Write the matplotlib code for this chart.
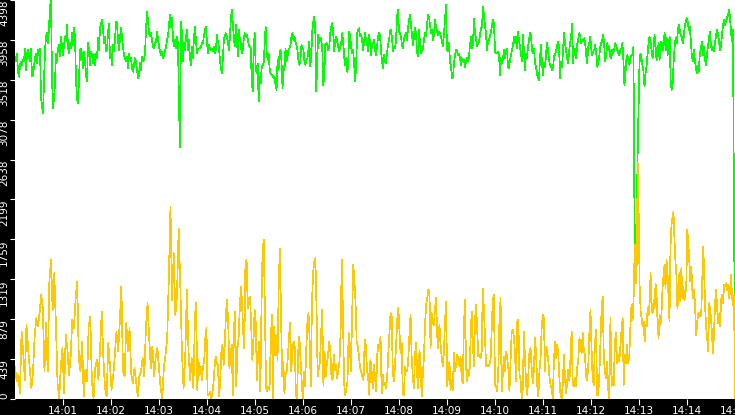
import numpy as np
import matplotlib
matplotlib.use('Agg')
import matplotlib.pyplot as plt

# minutes after 14:00, values
green_1 = [3774, 3719, 3810, 3608, 3553, 3682, 3719, 3682, 3737, 3719, 3865, 3627, 3810, 3847, 3774, 3719,
           3865, 3553, 3572, 3663, 3755, 3810, 3700, 3847, 3792, 3865, 3333, 3223, 3149, 3498, 3847, 3994,
           4031, 3921, 4086, 4325, 4398, 3535, 3204, 3315, 3480, 3810, 3719, 3865, 3902, 3774, 3994, 3884,
           3792, 3902, 3994, 3939, 4123, 3884, 3810, 3921, 3865, 4031, 3902, 4086, 3994, 3517, 3315, 3260,
           3517, 3847, 3865, 3792, 3645, 3829, 3737, 3572, 3498, 3921, 3847, 3682, 3829, 3792, 3700, 3792,
           3682, 3810, 3755, 3976, 3847, 4086, 4141, 4178, 4086, 3921, 3994, 3829, 3847, 4031, 4141, 3755,
           3810, 3682, 3902, 3829, 3957, 4159, 4141, 3957, 3847, 3976, 4086, 3994, 3884, 3792, 3755, 3719,
           3774, 3645, 3810, 3737, 3755, 3645, 3608, 3682, 3755, 3719, 3627, 3535, 3572, 3700, 3627, 3774,
           3719, 3737, 3810, 4067, 4269, 4178, 4031, 3994, 4031, 3957, 3884, 3865, 3921, 3939, 4049, 3976,
           3884, 3829, 3792, 3829, 3755, 3792, 3829, 3884, 3957, 3994, 4123, 4233, 4104, 4196, 3976, 3884,
           3957, 3865, 3994, 3921, 3223, 2780, 4159, 4031, 3719, 3921, 3847, 3994, 4067, 3847, 3957, 3755,
           3682, 3884, 3755, 3994, 4104, 3939, 3810, 3865, 3865]
green_2 = [3865, 3884, 3921, 3921, 4012, 4067, 4104, 3939, 3810, 3902, 3865, 3847, 3865, 3829, 3884, 3810,
           3847, 4012, 3939, 3884, 3737, 3645, 3590, 3755, 3957, 4012, 4031, 3994, 3939, 3847, 3976, 4178,
           4288, 4141, 3994, 3884, 4123, 4013, 3774, 4067, 3976, 3921, 3810, 3847, 3957, 4031, 3994, 4012,
           3976, 3902, 3884, 3865, 3517, 3388, 3865, 4031, 3663, 3590, 3700, 3278, 3553, 3480, 3645, 3682,
           3700, 3902, 4104, 3829, 3737, 3810, 3645, 3590, 3572, 3572, 3535, 3553, 3462, 3406, 3737, 3627,
           3810, 3847, 3719, 3425, 3663, 3627, 3865, 3719, 3774, 3847, 3865, 3902, 3994, 4031, 3957, 3994,
           3939, 3902, 3847, 3737, 3682, 3737, 3902, 3865, 3847, 3719, 3682, 3737, 3755, 3847, 3939, 3663,
           3810, 4067, 4159, 4214, 4031, 3388, 3792, 4012, 3921, 3976, 3957, 3847, 3462, 3553, 3902, 3921,
           3902, 3847, 3884, 4031, 4104, 4141, 4031, 3829, 3957, 3994, 3939, 3884, 3829, 3884, 3921, 4031,
           3939, 3774, 3682, 3755, 3608, 3663, 4049, 4012, 3884, 3810, 3847, 3700, 3498, 3663, 4031, 4067,
           4086, 3994, 4012, 3957, 3847, 3939, 4031, 3957, 3921, 3829, 4012, 3939, 3792, 3902, 3921, 3957]
green_3 = [3847, 3792, 3884, 3994, 4031, 4012, 3847, 3719, 3645, 3792, 3719, 3700, 3810, 3902, 3957, 4049,
           4067, 3976, 3829, 3884, 3865, 3939, 4214, 4288, 4049, 4031, 3994, 3902, 3865, 3976, 4012, 4031,
           3957, 4086, 4178, 4233, 4123, 4012, 3902, 3994, 4086, 4031, 3829, 3774, 4067, 3921, 3810, 3847,
           3865, 3957, 4031, 3994, 4123, 4233, 4214, 4123, 4031, 4067, 3957, 4012, 4178, 4104, 4049, 4012,
           4049, 4031, 3994, 3939, 3884, 4031, 4196, 4343, 3847, 3829, 3921, 3719, 3663, 3535, 3553, 3700,
           3792, 3847, 3829, 3792, 3810, 3755, 3682, 3755, 3719, 3737, 3663, 3719, 3755, 3719, 3774, 3902,
           3994, 3865, 3921, 4196, 4031, 3976, 3884, 3921, 3939, 4012, 4086, 4104, 4325, 4233, 4104, 4031,
           3847, 3939, 3957, 3994, 4049, 4123, 4178, 4141, 3829, 3810, 3810, 3829, 3792, 3572, 3755, 3700,
           3755, 3847, 3755, 3829, 3865, 3663, 3645, 3737, 3792, 3847, 3902, 3994, 3921, 3994, 3865, 4049,
           3957, 3884, 3810, 3719, 4012, 3829, 3627, 3810, 3755, 3884, 3957, 4031, 4012, 3847, 3810, 3865,
           3700, 3663, 3590, 3535, 3517, 3755, 3902, 3700, 3572, 3700, 3663, 3792, 3921, 3847, 3737, 3682,
           3663, 3627, 3645, 3774]
green_4 = [3792, 3829, 3884, 3939, 3884, 3535, 3719, 3663, 3847, 4031, 3921, 3847, 3755, 3700, 3829, 3921,
           3994, 4141, 3700, 3847, 3865, 3755, 3902, 3957, 4031, 4012, 3921, 3957, 3939, 3976, 3921, 3792,
           3700, 3884, 3921, 3994, 3865, 3792, 3829, 3847, 3902, 3810, 3663, 3700, 3774, 3884, 3921, 3957,
           4012, 3884, 3719, 3810, 3921, 3847, 3884, 3774, 3755, 3847, 3810, 3865, 3921, 3884, 3847, 3810,
           3792, 3847, 3865, 3921, 3737, 3462, 3572, 3755, 3792, 3719, 3682, 3755, 3792, 3792, 3884, 2050,
           1480, 1460, 2600, 3150, 3700, 3810, 3755, 3682, 3608, 3443, 3590, 3663, 3792, 3921, 3994, 3939,
           3847, 3755, 3865, 4012, 3884, 3737, 3810, 3921, 3737, 3921, 3939, 3829, 3957, 4031, 3847, 3976,
           3792, 3884, 3994, 3517, 3406, 3480, 3719, 3884, 3976, 3921, 4031, 4123, 4067, 4012, 3994, 3921,
           3994, 4104, 4159, 4196, 4159, 4067, 4104, 3957, 3792, 3719, 3847, 3737, 3663, 3590, 3663, 3608,
           3810, 3847, 3939, 3792, 3884, 3755, 3682, 3774, 3884, 3957, 4049, 3902, 3847, 3884, 3829, 3921,
           3994, 4067, 4031, 3957, 3847, 3884, 4012, 4104, 4178, 4123, 4159, 4196, 4233, 4288, 4214, 4049,
           3939, 4067, 2020, 570]

yellow_1 = [358, 193, 266, 64, 743, 523, 211, 817, 560, 340, 120, 303, 688, 890, 798, 945, 1147, 1000, 303,
            835, 303, 1294, 1532, 982, 1386, 817, 174, 0, 358, 560, 64, 706, 560, 266, 468, 872, 780, 1092,
            1294, 450, 303, 633, 28, 321, 193, 798, 908, 193, 10, 340, 431, 211, 560, 964, 450, 120, 28, 615,
            376, 101, 248, 486, 743, 523, 835, 1239, 303, 248, 835, 523, 780, 285, 174, 340, 193, 28, 248,
            303, 450, 248, 780, 1055, 670, 340, 578, 248, 468, 560, 340, 120, 10, 358, 486, 670, 1330, 2120,
            1092, 1606, 927, 1147, 1881, 1257, 523, 120, 431, 1202, 541, 211, 450, 120]
yellow_2 = [927, 1055, 101, 431, 266, 358, 211, 358, 413, 670, 780, 46, 46, 83, 10, 46, 156, 340, 468, 395,
            376, 28, 211, 523, 596, 376, 615, 945, 1092, 817, 340, 468, 596, 46, 780, 964, 138, 560, 670, 982,
            1239, 1074, 743, 560, 1514, 1532, 1000, 1110, 1129, 817, 431, 633, 982, 835, 211, 486, 633, 83,
            1037, 1661, 1752, 964, 120, 83, 138, 101, 596, 927, 10, 798, 486, 706, 431, 1239, 1661, 945, 248,
            413, 64, 266, 303, 468, 688, 835, 303, 541, 633, 578, 46, 10, 523, 688, 450, 211, 10, 303, 138,
            541, 835, 945, 651, 138, 1055, 1386, 1514, 1551, 1000, 248, 340, 413, 725, 982, 138, 523, 248,
            395, 468, 633, 541, 248, 211, 486, 321, 376, 230, 321, 413, 743, 1532, 964, 193, 46, 120, 193,
            725, 615, 303, 890, 1477, 1312, 1074, 633, 578, 468, 340, 303, 248, 211, 651, 596, 321, 248, 46,
            431, 321, 120, 376]
yellow_3 = [248, 83, 486, 596, 560, 688, 64, 266, 156, 174, 120, 248, 505, 725, 945, 908, 303, 193, 376, 596,
            872, 1000, 743, 505, 615, 64, 46, 358, 303, 303, 450, 706, 927, 468, 248, 120, 486, 615, 248, 120,
            541, 376, 28, 266, 450, 817, 1037, 1110, 1202, 1184, 560, 945, 835, 817, 1000, 1110, 688, 560, 817,
            596, 468, 358, 505, 853, 1074, 138, 303, 413, 101, 211, 101, 505, 303, 376, 486, 431, 358, 468,
            230, 174, 798, 1092, 340, 193, 321, 266, 651, 964, 670, 358, 872, 1037, 761, 468, 486, 450, 523,
            1220, 1000, 670, 358, 376, 358, 376, 431, 761, 1092, 1147, 156, 138, 83, 340, 872, 1110, 83, 266,
            468, 303, 523, 450, 340, 83, 413, 743, 761, 688, 505, 193, 853, 872, 266, 211, 10, 120, 743, 450,
            156, 46, 266, 523, 560, 340, 174, 321, 670, 505, 156, 28, 303, 450, 780, 927, 890, 303, 578, 523,
            413, 248, 156, 120, 10, 413]
yellow_4a = [633, 450, 596, 486, 211, 46, 10, 156, 486, 248, 64, 193, 321, 193, 468, 743, 174, 138, 230, 138,
             340, 431, 670, 596, 505, 725, 541, 486, 248, 211, 358, 725, 982, 541, 211, 156, 615, 761, 46, 46,
             266, 633, 982, 1129, 468, 303, 230, 413, 101, 10, 890, 138, 248, 156, 615, 725, 395, 486, 413,
             596, 761, 890, 156, 486, 395, 596, 395, 468, 798, 1037, 872]
yellow_4b = [1147, 1697, 1275, 1477, 2600, 2028, 1220, 964, 890, 798, 853, 633, 817, 798, 1000, 927, 1074,
             1386, 964, 945, 1092, 1000, 1275, 1147, 853, 670, 927, 817, 945, 1220, 1367, 1477, 1220, 1532,
             1404, 1147, 853, 1661, 1918, 1991, 2065, 1771, 1514, 1367, 1000, 1129, 1386, 1074, 1441, 1110,
             1239, 1092, 1129, 1294, 1863, 1716, 1496, 1294, 1459, 1202, 1110, 1202, 964, 706, 853, 945, 945,
             908, 945, 1330, 1679, 1367, 1000, 780, 670, 523, 1055, 982, 872, 670, 505, 780, 1074, 1202, 1000,
             835, 945, 798, 1092, 1147, 1055, 1257, 1239, 1275, 1202, 1257, 1110, 1184, 1367, 1129, 1037,
             1147, 0]

y_ticks = [0, 439, 879, 1319, 1759, 2199, 2638, 3078, 3518, 3958, 4398]
x_ticks = list(range(1, 16))
x_labels = ['14:%02d' % m for m in x_ticks]


def stamps(t0, t1, vals, last=False):
    return np.linspace(t0, t1, len(vals), endpoint=last)


green_t = np.concatenate([stamps(0, 3.854, green_1), stamps(3.854, 7.5, green_2),
                          stamps(7.5, 11.25, green_3), stamps(11.25, 15, green_4, True)])
green_v = np.array(green_1 + green_2 + green_3 + green_4)
yellow_t = np.concatenate([stamps(0, 3.75, yellow_1), stamps(3.75, 7.5, yellow_2),
                           stamps(7.5, 11.25, yellow_3), stamps(11.25, 12.89, yellow_4a),
                           stamps(12.89, 15, yellow_4b, True)])
yellow_v = np.array(yellow_1 + yellow_2 + yellow_3 + yellow_4a + yellow_4b)

fig = plt.figure(figsize=(7.35, 4.15), dpi=100, facecolor='black')
ax = fig.add_axes([15 / 735, 16 / 415, 720 / 735, 399 / 415])
ax.set_facecolor('white')

# thin hard-edged lines like the original bitmap graph
ax.plot(green_t, green_v, color='#00ff00', lw=0.5, antialiased=False)
ax.plot(yellow_t, yellow_v, color='#ffc800', lw=0.5, antialiased=False)

ax.set_xlim(0, 15)
ax.set_ylim(0, 4398)
for s in ax.spines.values():
    s.set_visible(False)

ax.set_yticks(y_ticks)
ax.set_yticklabels([str(v) for v in y_ticks], rotation=90, va='top')
ax.get_yticklabels()[0].set_va('bottom')
ax.set_xticks(x_ticks)
ax.set_xticklabels(x_labels)
ax.tick_params(axis='y', colors='white', length=3.6, width=0.8, pad=0.5, labelsize=7.5)
ax.tick_params(axis='x', colors='white', length=4.3, width=0.8, pad=0.5, labelsize=7.5)

fig.savefig('out.png', dpi=100, facecolor='black')
